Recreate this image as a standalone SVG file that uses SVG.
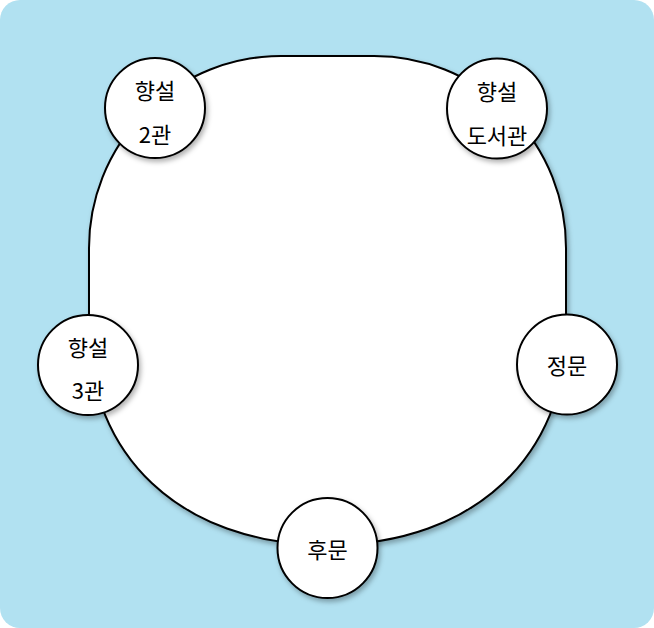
<svg xmlns="http://www.w3.org/2000/svg" width="654" height="628" viewBox="0 0 654 628">
  <defs>
    <filter id="sh" x="-20%" y="-20%" width="150%" height="150%">
      <feDropShadow dx="2" dy="3" stdDeviation="2.5" flood-color="#000" flood-opacity="0.3"/>
    </filter>
    <style>
      .node circle { fill: #ffffff; stroke: #000000; stroke-width: 2; filter: url(#sh); }
      .node text { font-family: "Noto Sans CJK KR", "Noto Sans", sans-serif; font-size: 22px; fill: #000000; text-anchor: middle; dominant-baseline: central; }
      .area { fill: #ffffff; stroke: #000000; stroke-width: 2; filter: url(#sh); }
    </style>
  </defs>
  <rect x="0" y="0" width="654" height="628" rx="20" ry="20" fill="#b1e1f1"/>
  <g id="campus">
    <path class="area" d="M 89 330 L 89 248 A 192 192 0 0 1 281 56 L 374 56 A 192 192 0 0 1 566 248 L 566 330 C 566 452 477.5 545 327.5 545 C 177.5 545 89 452 89 330 Z"/>
  </g>
  <g id="connectors"></g>
  <g id="node-2gwan" class="node">
    <circle cx="155" cy="108" r="50"/>
    <text x="155" y="89">향설</text>
    <text x="155" y="133">2관</text>
  </g>
  <g id="node-library" class="node">
    <circle cx="497" cy="108.5" r="50"/>
    <text x="497" y="90">향설</text>
    <text x="497" y="134">도서관</text>
  </g>
  <g id="node-3gwan" class="node">
    <circle cx="88" cy="365" r="50"/>
    <text x="88" y="346">향설</text>
    <text x="88" y="389">3관</text>
  </g>
  <g id="node-main-gate" class="node">
    <circle cx="567" cy="364.5" r="50"/>
    <text x="567" y="364">정문</text>
  </g>
  <g id="node-back-gate" class="node">
    <circle cx="327.5" cy="548" r="50"/>
    <text x="327.5" y="547.5">후문</text>
  </g>
</svg>
